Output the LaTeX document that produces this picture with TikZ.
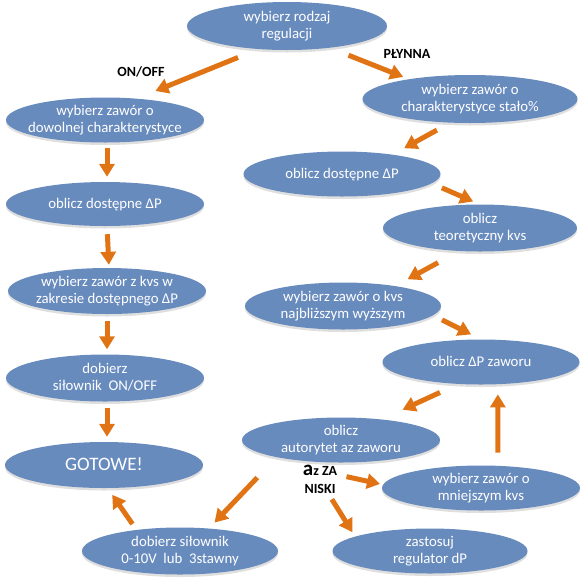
\documentclass[tikz,border=0pt]{standalone}
\usepackage{fontspec}
\setmainfont{Carlito}
\usetikzlibrary{shapes.geometric,arrows.meta,shadows}
\definecolor{ellblue}{RGB}{104,139,190}
\definecolor{arrorange}{RGB}{224,116,20}
\newcommand{\elltext}[1]{\makebox[0pt]{\raisebox{-0.3em}[0pt][0pt]{\begin{tabular}{@{}c@{}}#1\end{tabular}}}}

\begin{document}
\begin{tikzpicture}[x=1pt, y=-1pt,
  ell/.style={ellipse, fill=ellblue, text=white, inner sep=0pt, minimum width=198pt, minimum height=46pt,
    font=\fontsize{14.8}{17}\selectfont, drop shadow={shadow xshift=0pt, shadow yshift=-2.5pt, opacity=0.25}},
  arr/.style={draw=arrorange, line width=5pt, -{Triangle[width=15pt,length=13pt]}},
  lbl/.style={font=\fontsize{14}{18}\selectfont\bfseries, align=center}]
  \useasboundingbox (0,0) rectangle (585,582);

  % left column
  \node[ell, minimum width=200pt, minimum height=48pt] (rodzaj) at (287,26) {\elltext{wybierz rodzaj\\regulacji}};
  \node[ell, minimum height=45pt] (dowolna) at (105,120) {\elltext{wybierz zawór o\\dowolnej charakterystyce}};
  \node[ell, minimum height=44pt] (dostL) at (105,204) {\elltext{oblicz dostępne ΔP}};
  \node[ell] (zakres) at (107,291) {\elltext{wybierz zawór z kvs w\\zakresie dostępnego ΔP}};
  \node[ell, minimum height=47pt] (silON) at (105,378) {\elltext{dobierz\\siłownik~ ON/OFF}};
  \node[ell, font=\fontsize{19}{22}\selectfont] (gotowe) at (104,465) {\elltext{GOTOWE!}};
  \node[ell, minimum width=196pt, minimum height=47pt] (sil010) at (180,551) {\elltext{dobierz siłownik\\0-10V~ lub~ 3stawny}};

  % right column
  \node[ell, minimum width=215pt, minimum height=48pt] (stalo) at (470,99) {\elltext{wybierz zawór o\\charakterystyce stało\%}};
  \node[ell, minimum width=197pt, minimum height=45pt] (dostR) at (342,174) {\elltext{oblicz dostępne ΔP}};
  \node[ell, minimum width=194pt, minimum height=47pt] (teoret) at (480,228) {\elltext{oblicz\\teoretyczny kvs}};
  \node[ell, minimum width=196pt, minimum height=47pt] (najbl) at (343,306) {\elltext{wybierz zawór o kvs\\najbliższym wyższym}};
  \node[ell, minimum width=197pt, minimum height=45pt] (dPzaw) at (481,362) {\elltext{oblicz ΔP zaworu}};
  \node[ell, minimum height=45pt] (autor) at (341,440) {\elltext{oblicz\\autorytet az zaworu}};
  \node[ell, minimum height=45pt] (mniej) at (481,488) {\elltext{wybierz zawór o\\mniejszym kvs}};
  \node[ell, minimum width=195pt, minimum height=45pt] (zastos) at (430,551) {\elltext{zastosuj\\regulator dP}};

  \node[lbl] (onoff) at (141,72) {ON/OFF};
  \node[lbl] (plynna) at (407,54) {PŁYNNA};
  \node[lbl] (niski) at (320,479) {{\fontsize{21}{17}\selectfont a}z ZA\\NISKI};

  \draw[arr, shorten <=22pt, shorten >=20pt] (rodzaj.219) -- (dowolna.34);
  \draw[arr, shorten <=20pt, shorten >=6pt] (rodzaj.333) -- (stalo.162);
  \draw[arr, shorten <=5pt, shorten >=5pt] ([xshift=2pt]dowolna.south) -- ([xshift=2pt]dostL.north);
  \draw[arr, shorten <=8pt, shorten >=3pt] ([xshift=2pt]dostL.south) -- ([xshift=2pt]zakres.north);
  \draw[arr, shorten <=7pt, shorten >=5pt] (zakres.south) -- ([xshift=2pt]silON.north);
  \draw[arr, shorten <=6pt, shorten >=5pt] ([xshift=2pt]silON.south) -- ([xshift=3pt]gotowe.north);
  \draw[arr, shorten <=15pt, shorten >=13pt] (stalo.230) -- (dostR.21);
  \draw[arr, shorten <=11pt, shorten >=7pt] (dostR.354) -- (teoret.91);
  \draw[arr, shorten <=24pt, shorten >=14pt] (teoret.228) -- (najbl.21);
  \draw[arr, shorten <=10pt, shorten >=11pt] (najbl.354) -- (dPzaw.90);
  \draw[arr, shorten <=20pt, shorten >=23pt] (dPzaw.224) -- (autor.27);
  \draw[arr, shorten <=13pt, shorten >=10pt] (mniej.53) -- (dPzaw.307);
  \draw[arr, shorten <=6pt, shorten >=3pt] (niski.10) -- (mniej.178);
  \draw[arr, shorten <=3pt, shorten >=5pt] (niski.-60) -- (zastos.169);
  \draw[arr, shorten <=28pt, shorten >=8pt] (autor.195) -- (sil010.38);
  \draw[arr, shorten <=7pt, shorten >=8pt] (sil010.154) -- (gotowe.279);
\end{tikzpicture}
\end{document}
